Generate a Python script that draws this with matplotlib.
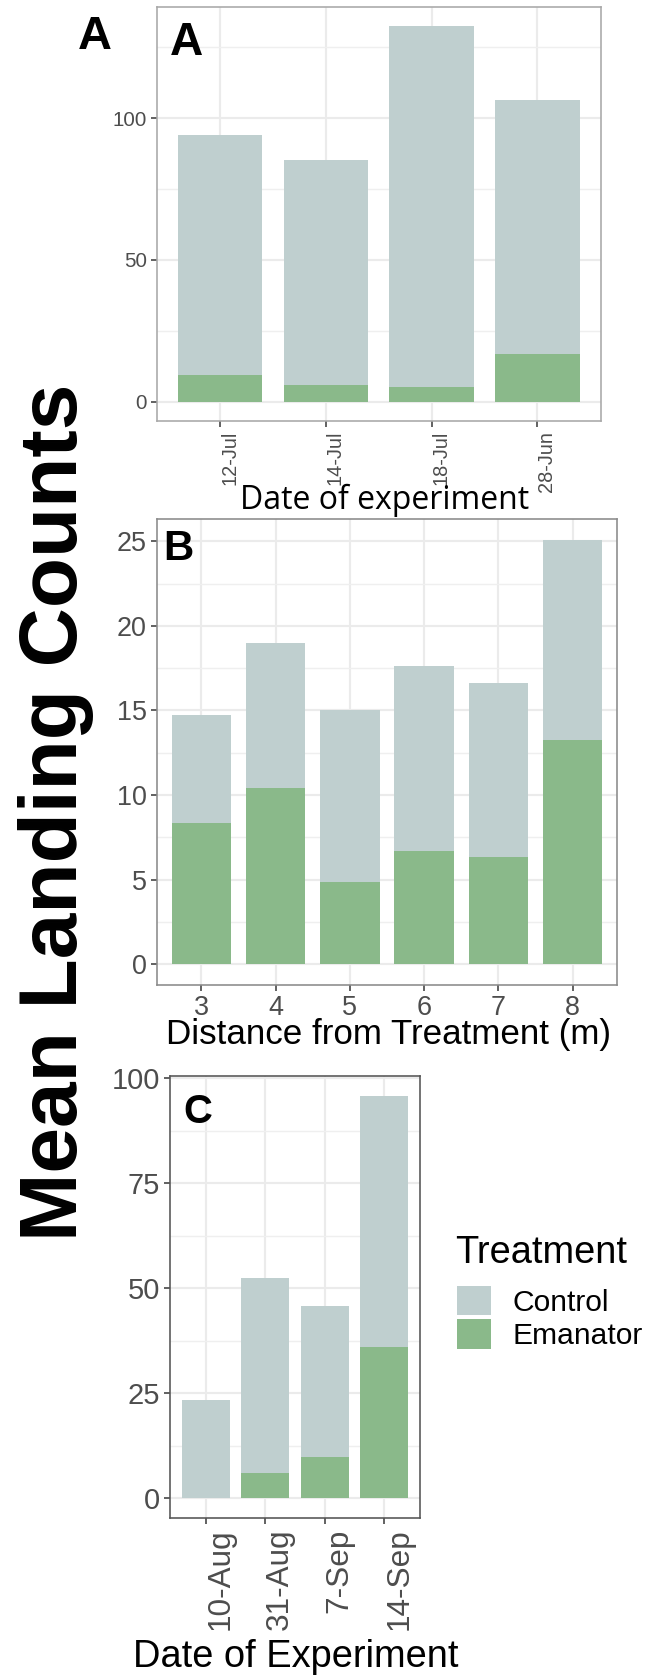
import numpy as np
import matplotlib
matplotlib.use('Agg')
import matplotlib.pyplot as plt
from matplotlib.patches import Patch
from matplotlib.ticker import MultipleLocator

# A: landings per experiment date
dates_a = ['12-Jul', '14-Jul', '18-Jul', '28-Jun']
control_a = [84.6, 79.4, 127.1, 89.6]
emanator_a = [9.6, 5.9, 5.4, 16.9]

# B: landings by distance from the treatment (m)
distance_b = ['3', '4', '5', '6', '7', '8']
control_b = [6.36, 8.56, 10.19, 10.96, 10.27, 11.79]
emanator_b = [8.36, 10.41, 4.85, 6.68, 6.35, 13.28]

# C: landings per experiment date, second season
dates_c = ['10-Aug', '31-Aug', '7-Sep', '14-Sep']
control_c = [23.4, 46.4, 36.0, 59.8]
emanator_c = [0.0, 6.0, 9.9, 36.0]

treatments = ['Control', 'Emanator']
colors = {'Control': '#BFCFCF', 'Emanator': '#8AB98A'}

plt.rcParams['font.family'] = ['Liberation Sans', 'DejaVu Sans']

W, H = 655, 1675
DPI = 100
PT = 72 / DPI   # pixels -> points


def fx(px):
    return px / W


def fy(py):
    return 1 - py / H


def rect(l, t, r, b):
    return [fx(l), fy(b), (r - l) / W, (b - t) / H]


def stacked_panel(ax, cats, control, emanator, major, minor, ysize, xsize,
                  rot, border):
    x = np.arange(len(cats))
    em = np.array(emanator)
    ct = np.array(control)
    ax.bar(x, em, width=0.8, color=colors['Emanator'], linewidth=0, zorder=2)
    ax.bar(x, ct, bottom=em, width=0.8, color=colors['Control'], linewidth=0, zorder=2)
    top = (em + ct).max()
    ax.set_ylim(-0.05 * top, 1.05 * top)
    ax.set_xlim(-0.6, len(cats) - 0.4)
    ax.yaxis.set_major_locator(MultipleLocator(major))
    ax.yaxis.set_minor_locator(MultipleLocator(minor))
    if rot:
        ax.set_xticks(x, cats, rotation=90, ha='left', va='top')
    else:
        ax.set_xticks(x, cats)
    ax.set_axisbelow(True)
    ax.grid(which='major', color='#EBEBEB', linewidth=1.5 * PT * 1.4)
    ax.grid(which='minor', axis='y', color='#EFEFEF', linewidth=1.0 * PT * 1.4)
    ax.tick_params(which='major', length=6 * PT, width=1.5 * PT, color='#333333',
                   pad=4 * PT)
    ax.tick_params(axis='y', labelsize=ysize * PT, labelcolor='#4D4D4D')
    ax.tick_params(axis='x', labelsize=xsize * PT, labelcolor='#4D4D4D')
    ax.tick_params(which='minor', length=0)
    for s in ax.spines.values():
        s.set_color(border)
        s.set_linewidth(1.6 * PT)


fig = plt.figure(figsize=(W / DPI, H / DPI), dpi=DPI)

ax_a = fig.add_axes(rect(156.7, 7, 600.7, 420.7))
stacked_panel(ax_a, dates_a, control_a, emanator_a, 50, 25, 20.5, 20, True, '#A8A8A8')
ax_a.set_xlabel('Date of experiment', family=['Open Sans', 'DejaVu Sans'],
                fontsize=32 * PT, va='baseline')
ax_a.xaxis.set_label_coords(fx(385), fy(509), transform=fig.transFigure)

ax_b = fig.add_axes(rect(156.7, 519, 617.3, 985.3))
stacked_panel(ax_b, distance_b, control_b, emanator_b, 5, 2.5, 27, 27, False, '#8A8A8A')
ax_b.set_xlabel('Distance from Treatment (m)', fontsize=35 * PT, va='baseline')
ax_b.xaxis.set_label_coords(fx(388), fy(1044), transform=fig.transFigure)

ax_c = fig.add_axes(rect(170, 1076, 420, 1518.3))
stacked_panel(ax_c, dates_c, control_c, emanator_c, 25, 12.5, 29, 31.5, True, '#555555')
ax_c.set_xlabel('Date of Experiment', fontsize=38 * PT, va='baseline')
ax_c.xaxis.set_label_coords(fx(296), fy(1667), transform=fig.transFigure)

# panel letters
fig.text(fx(78), fy(49), 'A', fontsize=47 * PT, fontweight='bold', va='baseline')
fig.text(fx(170), fy(55), 'A', fontsize=46 * PT, fontweight='bold', va='baseline')
fig.text(fx(163), fy(560), 'B', fontsize=42 * PT, fontweight='bold', va='baseline')
fig.text(fx(183), fy(1123), 'C', fontsize=40 * PT, fontweight='bold', va='baseline')

# shared y label
fig.text(fx(77), fy(812.5), 'Mean Landing Counts', fontsize=82 * PT, fontweight='bold',
         rotation=90, rotation_mode='anchor', ha='center', va='baseline')

# legend: title set apart from the keys
fig.text(fx(455), fy(1263), 'Treatment', fontsize=38 * PT, va='baseline')
handles = [Patch(facecolor=colors[t], edgecolor='none') for t in treatments]
leg = fig.legend(handles, treatments, loc='upper left',
                 bbox_to_anchor=(fx(456.7), fy(1286)), bbox_transform=fig.transFigure,
                 frameon=False, fontsize=30 * PT,
                 borderpad=0, borderaxespad=0,
                 handlelength=1.13, handleheight=1.13, handletextpad=0.73,
                 labelspacing=0.08)

fig.savefig('out.png', dpi=DPI, facecolor='white')
